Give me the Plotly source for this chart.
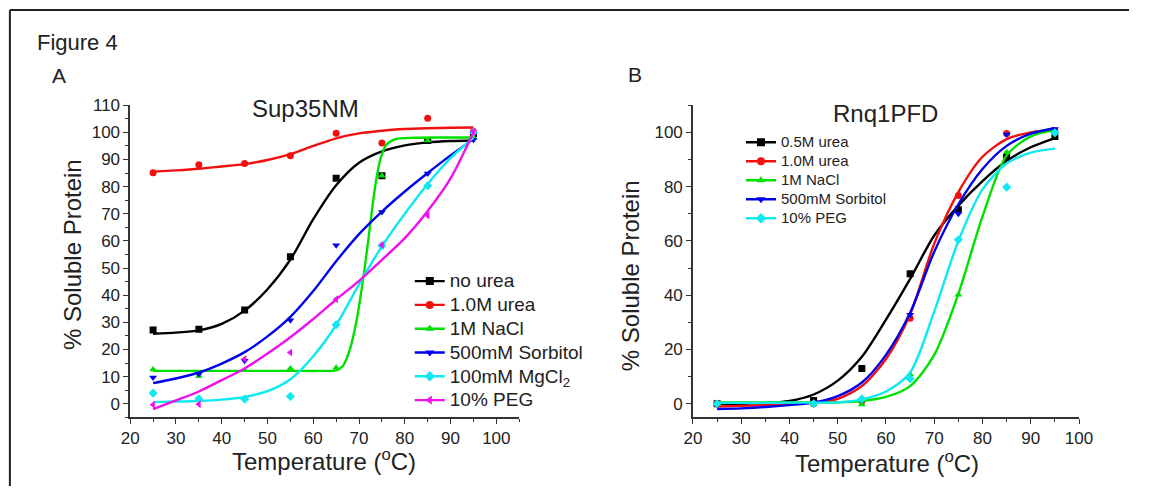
import plotly.graph_objects as go

# ---------------- data ----------------
# Panel A: Sup35NM
temps_a = [25, 35, 45, 55, 65, 75, 85, 95]
a_no_urea = [27.2, 27.4, 34.5, 54.2, 83.1, 84.0, 97.0, 99.5]
a_urea10 = [85.1, 88.1, 88.5, 91.4, 99.7, 96.1, 105.2, 100.3]
a_nacl = [12.6, 10.2, 12.3, 13.0, 13.3, 84.0, 97.0, 98.0]
a_sorbitol = [9.7, 11.0, 15.8, 30.8, 58.4, 70.6, 84.8, 97.3]
a_mgcl2 = [3.9, 1.8, 1.7, 2.7, 29.1, 58.2, 80.3, 100.0]
a_peg = [-0.4, -0.2, 16.5, 18.9, 38.5, 58.5, 69.4, 100.3]

# fitted curves of panel A, read at regular temperatures
fit_t = [25, 30, 35, 40, 45, 50, 55, 60, 65, 70, 75, 80, 85, 90, 95]
a_fit_no_urea = [25.8, 26.2, 27.0, 29.4, 34.3, 42.2, 53.1, 68.0, 80.5, 88.8, 93.0, 95.2, 96.3, 96.8, 97.0]
a_fit_urea10 = [85.5, 86.0, 86.6, 87.4, 88.3, 89.8, 92.0, 95.0, 97.8, 99.6, 100.6, 101.2, 101.5, 101.7, 101.8]
a_fit_sorbitol = [7.6, 9.3, 11.5, 14.8, 19.0, 24.8, 32.0, 41.5, 52.5, 62.5, 70.8, 78.2, 85.0, 91.5, 97.5]
a_fit_mgcl2 = [0.6, 0.8, 1.0, 1.5, 2.5, 4.6, 9.0, 17.5, 29.0, 44.0, 58.0, 70.0, 81.0, 90.5, 98.0]
a_fit_peg = [-2.0, 1.2, 4.5, 8.7, 13.0, 18.5, 24.5, 31.2, 38.4, 45.3, 53.0, 61.0, 71.0, 83.0, 100.0]
nacl_fit_t = [25, 35, 45, 55, 62, 65, 66.5, 68, 69.5, 70.9, 72, 72.8, 73.8, 74.8, 76, 78, 82, 88, 95]
a_fit_nacl = [12.1, 12.1, 12.1, 12.1, 12.1, 12.3, 14.0, 20.0, 31.0, 46.0, 60.0, 71.0, 83.0, 91.0, 95.5, 97.5, 98.0, 98.1, 98.1]

# Panel B: Rnq1PFD
temps_b = [25, 45, 55, 65, 75, 85, 95]
b_urea05 = [0.0, 1.2, 13.0, 47.9, 71.5, 90.8, 98.5]
b_urea10 = [0.0, 0.0, 1.0, 31.5, 76.7, 99.6, 100.5]
b_nacl = [0.0, 0.0, -0.3, 10.8, 40.2, 92.7, 100.0]
b_sorbitol = [-0.5, 0.0, 1.5, 32.8, 70.0, 99.2, 101.2]
b_peg = [0.0, 0.0, 1.8, 9.2, 60.4, 79.8, 99.8]

b_fit_urea05 = [0.0, 0.0, 0.2, 1.0, 3.4, 8.5, 17.3, 31.0, 46.0, 62.0, 73.0, 82.0, 89.5, 94.5, 97.9]
b_fit_urea10 = [-1.0, -0.8, -0.5, 0.0, 0.5, 1.8, 6.5, 16.5, 33.0, 59.0, 78.0, 91.0, 97.5, 100.0, 101.0]
b_fit_nacl = [0.5, 0.5, 0.5, 0.5, 0.5, 0.5, 1.0, 2.5, 6.5, 18.0, 40.5, 69.0, 91.5, 98.5, 100.8]
b_fit_sorbitol = [-2.0, -1.7, -1.2, -0.5, 0.4, 2.8, 7.8, 18.0, 33.5, 56.0, 73.5, 86.5, 95.0, 99.5, 101.5]
b_fit_peg = [0.3, 0.3, 0.3, 0.4, 0.4, 0.5, 1.6, 4.5, 11.5, 34.0, 60.0, 79.0, 88.5, 92.5, 94.0]

names_a = ["no urea", "1.0M urea", "1M NaCl", "500mM Sorbitol", "100mM MgCl<sub>2</sub>", "10% PEG"]
names_b = ["0.5M urea", "1.0M urea", "1M NaCl", "500mM Sorbitol", "10% PEG"]

# ---------------- styles ----------------
BLACK, RED, GREEN, BLUE, CYAN, MAGENTA = "#000000", "#f01010", "#00e000", "#0000ee", "#10e8f0", "#ee10ee"
FONT = "Liberation Sans, Arial, sans-serif"
# the page keeps an 8px body margin, so the figure is 16px smaller than the window
OFF = 8
W, H = 1159 - 2 * OFF, 502 - 2 * OFF


def px(x):
    return (x - OFF) / W


def py(y):
    return 1 - (y - OFF) / H


fig = go.Figure()

series_a = [
    (names_a[0], a_no_urea, fit_t, a_fit_no_urea, BLACK, "square"),
    (names_a[1], a_urea10, fit_t, a_fit_urea10, RED, "circle"),
    (names_a[2], a_nacl, nacl_fit_t, a_fit_nacl, GREEN, "triangle-up"),
    (names_a[3], a_sorbitol, fit_t, a_fit_sorbitol, BLUE, "triangle-down"),
    (names_a[4], a_mgcl2, fit_t, a_fit_mgcl2, CYAN, "diamond"),
    (names_a[5], a_peg, fit_t, a_fit_peg, MAGENTA, "triangle-left"),
]
series_b = [
    (names_b[0], b_urea05, fit_t, b_fit_urea05, BLACK, "square"),
    (names_b[1], b_urea10, fit_t, b_fit_urea10, RED, "circle"),
    (names_b[2], b_nacl, fit_t, b_fit_nacl, GREEN, "triangle-up"),
    (names_b[3], b_sorbitol, fit_t, b_fit_sorbitol, BLUE, "triangle-down"),
    (names_b[4], b_peg, fit_t, b_fit_peg, CYAN, "diamond"),
]


def add_panel(series, temps, xa, ya, legend, text_size):
    for name, pts, ft, fv, col, sym in series:
        fig.add_trace(go.Scatter(x=ft, y=fv, mode="lines", xaxis=xa, yaxis=ya,
                                 line=dict(color=col, width=2.4, shape="spline", smoothing=0.8),
                                 showlegend=False, hoverinfo="skip"))
        fig.add_trace(go.Scatter(x=temps, y=pts, mode="markers", xaxis=xa, yaxis=ya,
                                 marker=dict(color=col, symbol=sym, size=7),
                                 showlegend=False, name=name))
        fig.add_trace(go.Scatter(x=[None], y=[None], mode="lines+markers", xaxis=xa, yaxis=ya,
                                 marker=dict(color=col, symbol=sym, size=8),
                                 line=dict(color=col, width=2.4),
                                 name='<span style="font-size:%dpx">%s</span>' % (text_size, name),
                                 legend=legend, showlegend=True))


add_panel(series_a, temps_a, "x", "y", "legend", 19)
add_panel(series_b, temps_b, "x2", "y2", "legend2", 15)

axis_common = dict(showline=True, linecolor="#333333", linewidth=1.5, ticks="outside",
                   ticklen=5, tickwidth=1.3, tickcolor="#333333", showgrid=False,
                   zeroline=False, tickfont=dict(family=FONT, size=17, color="#222222"))
minor10 = dict(ticks="outside", ticklen=3, dtick=10, tickcolor="#333333")
minor5 = dict(ticks="outside", ticklen=3, dtick=5, tickcolor="#333333")

fig.update_layout(
    width=W, height=H, margin=dict(l=0, r=0, t=0, b=0),
    paper_bgcolor="white", plot_bgcolor="white",
    font=dict(family=FONT, color="#222222"),
    xaxis=dict(domain=[px(131.7), px(528.7)], range=[20, 105], dtick=10, tick0=0,
               minor=minor5, anchor="y", **axis_common),
    yaxis=dict(domain=[py(424), py(106)], range=[-5, 110], dtick=10, tick0=0,
               minor=minor5, anchor="x", **axis_common),
    xaxis2=dict(domain=[px(706), px(1100)], range=[20, 100], dtick=10, tick0=0,
                minor=minor5, anchor="y2", **axis_common),
    yaxis2=dict(domain=[py(424), py(106)], range=[-5, 110], dtick=20, tick0=0,
                minor=minor10, anchor="x2", **axis_common),
    legend=dict(x=px(417), y=py(268), xanchor="left", yanchor="top",
                bgcolor="rgba(0,0,0,0)", font=dict(family=FONT, size=16, color="#222222"),
                itemwidth=30, tracegroupgap=0),
    legend2=dict(x=px(755), y=py(129), xanchor="left", yanchor="top",
                 bgcolor="rgba(0,0,0,0)", font=dict(family=FONT, size=11, color="#222222"),
                 itemwidth=30, tracegroupgap=0),
)

ann = [
    dict(text="Figure 4", x=px(35), y=py(42), xanchor="left", yanchor="middle", size=22),
    dict(text="A", x=px(50), y=py(76), xanchor="left", yanchor="middle", size=21),
    dict(text="B", x=px(638), y=py(75), xanchor="left", yanchor="middle", size=21),
    dict(text="Sup35NM", x=px(311), y=py(109), xanchor="center", yanchor="middle", size=24),
    dict(text="Rnq1PFD", x=px(902), y=py(114), xanchor="center", yanchor="middle", size=24),
    dict(text="Temperature (<sup>o</sup>C)", x=px(329), y=py(467), xanchor="center", yanchor="middle", size=24),
    dict(text="Temperature (<sup>o</sup>C)", x=px(904), y=py(470), xanchor="center", yanchor="middle", size=24),
    dict(text="% Soluble Protein", x=px(73), y=py(258), xanchor="center", yanchor="middle", size=24, angle=-90),
    dict(text="% Soluble Protein", x=px(643), y=py(280), xanchor="center", yanchor="middle", size=24, angle=-90),
]
for a in ann:
    fig.add_annotation(text=a["text"], x=a["x"], y=a["y"], xref="paper", yref="paper",
                       xanchor=a["xanchor"], yanchor=a["yanchor"], showarrow=False,
                       textangle=a.get("angle", 0),
                       font=dict(family=FONT, size=a["size"], color="#222222"))

# page frame (top and left edges), drawn at the figure edge
fig.add_shape(type="line", xref="paper", yref="paper", x0=0.0008, x1=1, y0=0.998, y1=0.998,
              line=dict(color="#222222", width=2))
fig.add_shape(type="line", xref="paper", yref="paper", x0=0.0008, x1=0.0008, y0=0, y1=0.998,
              line=dict(color="#222222", width=2))

fig.write_html("out.html")
